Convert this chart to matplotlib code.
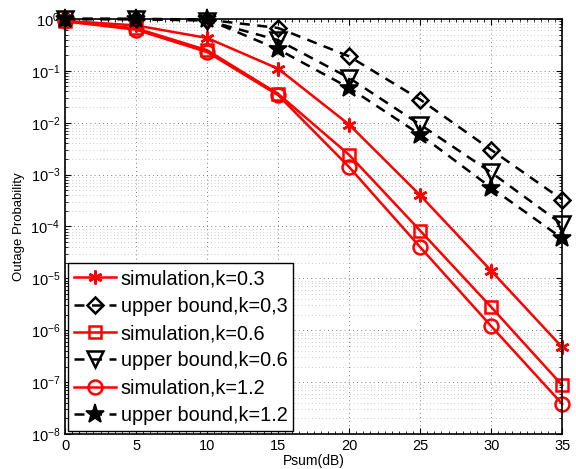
import numpy as np
import matplotlib
matplotlib.use('Agg')
import matplotlib.pyplot as plt
from matplotlib.ticker import LogLocator, MultipleLocator, NullFormatter

plt.rcParams['font.family'] = ['Liberation Sans', 'DejaVu Sans']
plt.rcParams['mathtext.fontset'] = 'custom'
plt.rcParams['mathtext.rm'] = 'Liberation Sans'

psum = [0, 5, 10, 15, 20, 25, 30, 35]

sim_k03 = [0.92, 0.75, 0.43, 0.11, 9.2e-3, 4.0e-4, 1.4e-5, 4.7e-7]
ub_k03 = [1.0, 1.0, 0.97, 0.67, 0.19, 0.028, 3.0e-3, 3.3e-4]
sim_k06 = [0.9, 0.66, 0.25, 0.036, 2.4e-3, 8.3e-5, 2.8e-6, 8.7e-8]
ub_k06 = [1.0, 0.99, 0.93, 0.39, 0.073, 9.2e-3, 1.1e-3, 1.1e-4]
sim_k12 = [0.9, 0.62, 0.23, 0.034, 1.4e-3, 4.0e-5, 1.2e-6, 3.8e-8]
ub_k12 = [1.0, 1.0, 0.98, 0.26, 0.047, 5.9e-3, 5.6e-4, 5.9e-5]

labels = ['simulation,k=0.3', 'upper bound,k=0,3', 'simulation,k=0.6',
          'upper bound,k=0.6', 'simulation,k=1.2', 'upper bound,k=1.2']

fig = plt.figure(figsize=(5.76, 4.69), dpi=100)
ax = fig.add_axes([0.113, 0.0746, 0.863, 0.885])

red = dict(color='red', lw=1.8, ls='-', clip_on=False)
blk = dict(color='black', lw=1.8, ls=(0, (4, 3)), clip_on=False)

ax.plot(psum, sim_k03, marker=(6, 2, 0), ms=10, mew=1.8, label=labels[0], **red)
ax.plot(psum, ub_k03, marker='D', ms=8.5, mfc='none', mew=1.8, label=labels[1], **blk)
ax.plot(psum, sim_k06, marker='s', ms=9, mfc='none', mew=1.8, label=labels[2], **red)
ax.plot(psum, ub_k06, marker='v', ms=11, mfc='none', mew=1.8, label=labels[3], **blk)
ax.plot(psum, sim_k12, marker='o', ms=10, mfc='none', mew=1.8, label=labels[4], **red)
ax.plot(psum, ub_k12, marker='*', ms=14, mfc='black', mew=1.2, label=labels[5], **blk)

ax.set_yscale('log')
ax.set_xlim(0, 35)
ax.set_ylim(1e-8, 1)
ax.set_xticks(psum)
ax.xaxis.set_minor_locator(MultipleLocator(0.5))
ax.yaxis.set_major_locator(LogLocator(base=10, numticks=20))
ax.yaxis.set_minor_locator(LogLocator(base=10, subs=np.arange(2, 10), numticks=20))
ax.yaxis.set_minor_formatter(NullFormatter())

ax.tick_params(which='both', direction='in', top=True, right=True, labelsize=10.5)
ax.tick_params(which='major', length=4, width=0.8)
ax.tick_params(which='minor', length=2, width=0.6)

ax.grid(True, which='major', ls=(0, (1, 4)), lw=0.6, color='#555555')
ax.grid(True, which='minor', axis='y', ls=(0, (1, 4)), lw=0.5, color='#999999')
for sp in ax.spines.values():
    sp.set_linewidth(1.2)

ax.set_xlabel('Psum(dB)', fontsize=10, labelpad=1)
ax.set_ylabel('Outage Probability', fontsize=9.5, labelpad=4)

leg = ax.legend(loc='lower left', fontsize=14.3, fancybox=False, framealpha=1,
                edgecolor='black', handlelength=2.1, handletextpad=0.25,
                labelspacing=0.42, borderaxespad=0.15, borderpad=0.3)
leg.get_frame().set_linewidth(1.0)

fig.savefig('out.png', dpi=100)
